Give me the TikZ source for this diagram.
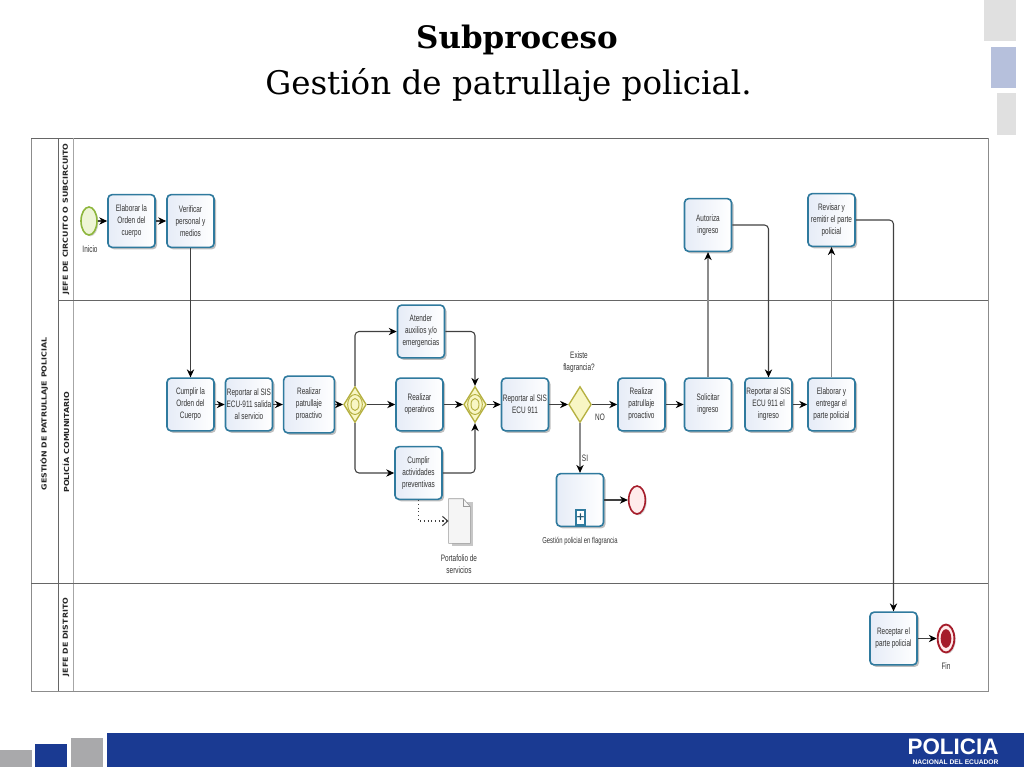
\documentclass[tikz,border=0pt]{standalone}
\usepackage{fontspec}
\usepackage{amsmath}
\usepackage{tikz}
\usetikzlibrary{calc}
\usetikzlibrary{arrows.meta}
\usetikzlibrary{shapes.geometric}
\usetikzlibrary{shadows}
\setmainfont{DejaVu Serif}
\newfontfamily\taskfont[FakeStretch=0.69]{Liberation Sans}
\newfontfamily\lanefont[FakeStretch=1.14]{DejaVu Sans}
\newfontfamily\logofont{Liberation Sans}
\definecolor{barblue}{HTML}{1A3A92}
\definecolor{bargrey}{HTML}{A9A9AB}
\definecolor{taskline}{HTML}{2F7A9E}
\definecolor{taskfill}{HTML}{E6ECF7}
\definecolor{gateline}{HTML}{B5B040}
\definecolor{gatefill}{HTML}{F8F6C4}
\definecolor{endred}{HTML}{A51C2A}
\definecolor{startline}{HTML}{8DB63C}
\definecolor{startfill}{HTML}{EEF5D6}
\tikzset{
  task/.style={draw=taskline,line width=1.2pt,rounded corners=3pt,left color=taskfill,right color=white,
    minimum width=35.25pt,minimum height=39.5pt,inner sep=0pt,align=center,text=black!80,
    font=\taskfont\fontsize{7}{9}\selectfont,
    drop shadow={shadow xshift=1.5pt,shadow yshift=-1.5pt,fill=black!50,opacity=.5}},
  gateway/.style={diamond,draw=gateline,line width=1pt,fill=gatefill,aspect=.6,inner sep=0pt,
    minimum width=17pt,minimum height=27pt},
  gatering/.style={ellipse,draw=gateline,line width=.7pt,inner sep=0pt},
  flow/.style={draw=black!75,line width=.8pt,rounded corners=3pt,-{Stealth[black,length=6pt,width=5.5pt]}},
  flowgrey/.style={flow,draw=black!45},
  note/.style={font=\taskfont\fontsize{7}{9}\selectfont,text=black!80,align=center,inner sep=0pt},
  lanetext/.style={rotate=90,font=\lanefont\bfseries\fontsize{5.2}{6}\selectfont,text=black!85,inner sep=0pt},
  lane/.style={draw=black!60,line width=.7pt},
  eventshadow/.style={drop shadow={shadow xshift=1pt,shadow yshift=-1pt,fill=black!40,opacity=.4}}
}
\begin{document}
\begin{tikzpicture}[x=0.75pt,y=-0.75pt]
\useasboundingbox (0,0) rectangle (1024,768);
% corner blocks
\fill[black!12] (984,0) rectangle (1016,41);
\fill[barblue!32] (991,47) rectangle (1016,88);
\fill[black!12] (997,93) rectangle (1016,135);
\fill[bargrey] (0,750) rectangle (32,767);
\fill[barblue] (35,744) rectangle (67,767);
\fill[bargrey] (71,738) rectangle (103,767);
\fill[barblue] (107,733) rectangle (1024,767);
\node[text=white,font=\logofont\bfseries\fontsize{16.8}{18}\selectfont,inner sep=0pt] (logoA) at (953,747) {POLICIA};
\node[text=white,font=\logofont\bfseries\fontsize{5}{6}\selectfont,inner sep=0pt] (logoB) at (955.5,762) {NACIONAL DEL ECUADOR};
% title
\node[font=\bfseries\fontsize{23.2}{24}\selectfont,inner sep=0pt] (titleA) at (517,40) {Subproceso};
\node[font=\fontsize{24.4}{24}\selectfont,inner sep=0pt] (titleB) at (508.5,85) {Gestión de patrullaje policial.};
% lanes
\draw[lane,draw=black!45] (31,138) rectangle (988,691);
\draw[lane] (31,138) -- (988,138);
\draw[lane] (58,138) -- (58,691);
\draw[lane,draw=black!35] (73,138) -- (73,691);
\draw[lane] (58,300) -- (988,300);
\draw[lane] (31,583) -- (988,583);
\node[lanetext] (laneAll) at (44,414) {GESTIÓN DE PATRULLAJE POLICIAL};
\node[lanetext] (laneA) at (66,219) {JEFE DE CIRCUITO O SUBCIRCUITO};
\node[lanetext] (laneB) at (66,442) {POLICÍA COMUNITARIO};
\node[lanetext] (laneC) at (66,637) {JEFE DE DISTRITO};
% tasks
\foreach \id/\cx/\cy/\txt in {elab/131.5/221/{Elaborar la\\Orden del\\cuerpo},
  verif/190.5/221/{Verificar\\personal y\\medios},
  cumplir/190.5/404.5/{Cumplir la\\Orden del\\Cuerpo},
  repsal/249/404.5/{Reportar al SIS\\ECU-911 salida\\al servicio},
  atender/421/331.5/{Atender\\auxilios y/o\\emergencias},
  operat/419.5/404.5/{Realizar\\operativos},
  activ/418.5/473/{Cumplir\\actividades\\preventivas},
  repecu/525/404.5/{Reportar al SIS\\ECU 911},
  realdos/641.5/404.5/{Realizar\\patrullaje\\proactivo},
  solic/708/404.5/{Solicitar\\ingreso},
  autor/708/225/{Autoriza\\ingreso},
  reping/768.5/404.5/{Reportar al SIS\\ECU 911 el\\ingreso},
  entreg/831.5/404.5/{Elaborar y\\entregar el\\parte policial},
  revis/831.5/220/{Revisar  y\\remitir el parte\\policial},
  recep/893.5/638.5/{Receptar el\\parte policial}}
\node[task] (\id) at (\cx,\cy) {\txt};
\node[task,minimum width=38pt,minimum height=42.5pt] (realuno) at (309,404.5) {Realizar\\patrullaje\\proactivo};
\node[task] (subproc) at (580,500) {};
\node[draw=taskline,line width=1.1pt,fill=white,text=taskline!70!black,minimum width=6.5pt,minimum height=11pt,inner sep=0pt,font=\bfseries\fontsize{8}{8}\selectfont] (plusbox) at (580.5,517.5) {+};
% events
\node[ellipse,eventshadow,draw=startline,line width=1.2pt,fill=startfill,minimum width=12pt,minimum height=21pt,inner sep=0pt] (start) at (89,221) {};
\node[ellipse,eventshadow,draw=endred,line width=1.2pt,fill=red!8,minimum width=12.5pt,minimum height=21pt,inner sep=0pt] (endsub) at (637,500) {};
\node[ellipse,eventshadow,draw=endred,line width=1.4pt,fill=red!8,minimum width=12.5pt,minimum height=21pt,inner sep=0pt] (fin) at (946,638.5) {};
\node[ellipse,fill=endred,minimum width=8pt,minimum height=14pt,inner sep=0pt] (fincore) at (fin) {};
% gateways
\node[gateway] (gateA) at (355,404.5) {};
\node[gateway] (gateB) at (475,404.5) {};
\node[gateway] (gateC) at (580,404.5) {};
\foreach \g in {gateA,gateB}{
\node[gatering,minimum width=11pt,minimum height=15pt] at (\g) {};
\node[gatering,minimum width=6pt,minimum height=9pt] at (\g) {};
}
% document
\node[minimum width=16pt,minimum height=33pt,inner sep=0pt] (port) at (459.5,521) {};
\fill[black!22] ($(port.north west)+(3,3)$) rectangle ($(port.south east)+(3,3)$);
\draw[draw=black!40,fill=black!4] (port.north west) -- ($(port.north east)+(-7,0)$) -- ($(port.north east)+(0,8)$) -- (port.south east) -- (port.south west) -- cycle;
\draw[draw=black!40] ($(port.north east)+(-7,0)$) -- ($(port.north east)+(-7,8)$) -- ($(port.north east)+(0,8)$);
% connectors
\foreach \a/\b in {start/elab,elab/verif,verif/cumplir,cumplir/repsal,repsal/realuno,realuno/gateA,
  gateA/operat,operat/gateB,gateB/repecu,repecu/gateC,gateC/realdos,realdos/solic,reping/entreg,subproc/endsub,recep/fin}
\draw[flow] (\a) -- (\b);
\foreach \a/\b in {solic/autor,entreg/revis}
\draw[flowgrey] (\a) -- (\b);
\draw[flowgrey] (gateC.south) -- (subproc.north);
\draw[flow] (gateA.north) |- (atender.west);
\draw[flow] (gateA.south) |- (activ.west);
\draw[flow] (atender.east) -| (gateB.north);
\draw[flow] (activ.east) -| (gateB.south);
\draw[flow] (autor.east) -| (reping.north);
\draw[flow] (revis.east) -| (recep.north);
\coordinate (dotdown) at (417,521);
\draw[black!75,line width=.8pt,dotted,-{Straight Barb[length=4pt,width=7pt]}] (activ.south) -- (activ.south |- dotdown) -- (port.west);
% labels
\node[note] (inicio) at (90,249) {Inicio};
\node[note] (finlabel) at (946,666) {Fin};
\node[note] (existe) at (579,362) {Existe\\flagrancia?};
\node[note] (nolabel) at (600,417) {NO};
\node[note] (silabel) at (585,458) {SI};
\node[note,font=\taskfont\fontsize{6.4}{9}\selectfont] (sublabel) at (580,541) {Gestión policial en flagrancia};
\node[note] (portlabel) at (459,564) {Portafolio de\\servicios};
\end{tikzpicture}
\end{document}
